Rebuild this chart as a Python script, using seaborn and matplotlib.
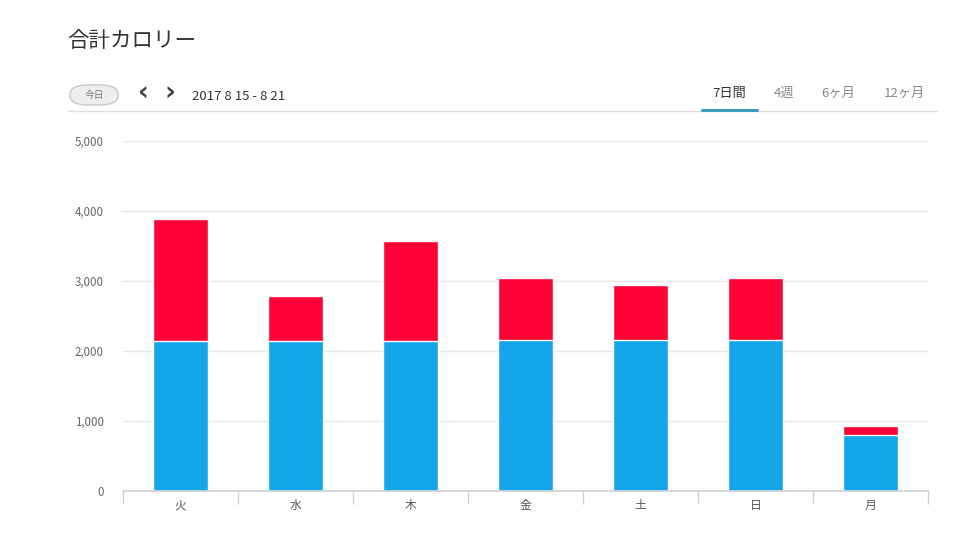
import matplotlib
matplotlib.use('Agg')
import matplotlib.pyplot as plt
from matplotlib.patches import FancyBboxPatch
from matplotlib.lines import Line2D
import seaborn as sns

# chart data
days = ['火', '水', '木', '金', '土', '日', '月']
base_kcal = [2140, 2140, 2140, 2155, 2155, 2155, 800]
total_kcal = [3885, 2785, 3570, 3045, 2945, 3045, 930]
y_ticks = [0, 1000, 2000, 3000, 4000, 5000]
tabs = ['7日間', '4週', '6ヶ月', '12ヶ月']

blue = '#13a6e9'
red = '#ff0037'

sns.set_theme(style='white')
plt.rcParams['font.family'] = ['Noto Sans CJK JP', 'DejaVu Sans']

W, H = 973, 535
fig = plt.figure(figsize=(W / 100, H / 100), dpi=100)
ax = fig.add_axes([123 / W, 1 - 491 / H, (928 - 123) / W, (491 - 141) / H])


def fx(px):
    return px / W


def fy(py):
    return 1 - py / H


# stacked bars: total in red, base in blue on top of it
sns.barplot(x=days, y=total_kcal, color=red, width=0.48, saturation=1, ax=ax)
sns.barplot(x=days, y=base_kcal, color=blue, width=0.48, saturation=1,
            edgecolor='white', linewidth=1, ax=ax)

ax.set_ylim(0, 5000)
ax.set_xlim(-0.5, len(days) - 0.5)
ax.set_yticks(y_ticks)
ax.set_yticklabels([f'{v:,}' for v in y_ticks])
ax.yaxis.grid(True, color='#e6e6e6', linewidth=1)
ax.set_axisbelow(True)
for s in ['top', 'right', 'left']:
    ax.spines[s].set_visible(False)
ax.spines['bottom'].set_color('#cdd3d8')
ax.tick_params(axis='y', length=0, labelsize=8.3, labelcolor='#666666', pad=14)
ax.tick_params(axis='x', which='major', length=0, labelsize=8.5,
               labelcolor='#555555', pad=6)
ax.set_xticks([i - 0.5 for i in range(len(days) + 1)], minor=True)
ax.tick_params(axis='x', which='minor', bottom=True, length=9,
               color='#cdd3d8', width=1)
ax.set_xlabel('')
ax.set_ylabel('')

# header
fig.text(fx(67), fy(41), '合計カロリー', fontsize=15.5, color='#333333',
         va='center', ha='left')

btn = FancyBboxPatch((fx(70), fy(105)), fx(48), fy(85) - fy(105),
                     boxstyle='round,pad=0,rounding_size=0.018',
                     transform=fig.transFigure, facecolor='#eeeeee',
                     edgecolor='#c8c8c8', linewidth=1)
fig.patches.append(btn)
fig.text(fx(94), fy(95), '今日', fontsize=7, color='#777777',
         ha='center', va='center')
fig.text(fx(143), fy(94), '‹', fontsize=19, fontweight='bold',
         color='#444444', ha='center', va='center', family='DejaVu Sans')
fig.text(fx(170), fy(94), '›', fontsize=19, fontweight='bold',
         color='#444444', ha='center', va='center', family='DejaVu Sans')
fig.text(fx(192), fy(97), '2017 8 15 - 8 21', fontsize=9.5,
         color='#333333', ha='left', va='center')

tab_x = [729, 784, 838, 904]
for i, (t, x) in enumerate(zip(tabs, tab_x)):
    fig.text(fx(x), fy(93), t, fontsize=9.5,
             color='#333333' if i == 0 else '#888888',
             ha='center', va='center')

fig.add_artist(Line2D([fx(68), fx(937)], [fy(110.5), fy(110.5)],
                      transform=fig.transFigure, color='#dddddd', linewidth=1))
fig.add_artist(Line2D([fx(702), fx(757)], [fy(109.5), fy(109.5)],
                      transform=fig.transFigure, color='#3a9dbf', linewidth=2.2))

fig.savefig('out.png', dpi=100)
